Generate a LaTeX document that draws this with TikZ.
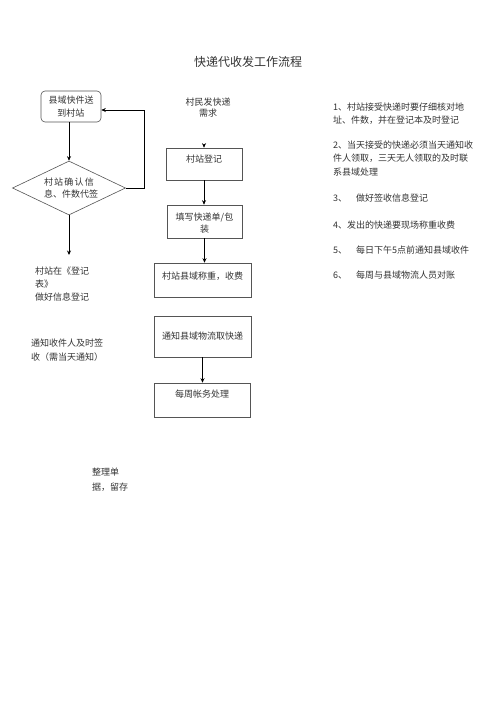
\documentclass[tikz,border=0pt]{standalone}
\usepackage{fontspec}
\setmainfont{Noto Sans CJK SC}
\usetikzlibrary{shapes.geometric,arrows.meta}
\definecolor{txt}{HTML}{333333}
\definecolor{boxc}{HTML}{555555}
\begin{document}
\begin{tikzpicture}[x=1pt,y=-1pt,
  every node/.style={font=\fontsize{9pt}{12.5pt}\selectfont, text=txt, inner sep=0pt},
  stepbox/.style={draw=boxc, line width=0.6pt, inner sep=0pt},
  rbox/.style={stepbox, rounded corners=4pt, align=center},
  dia/.style={draw=boxc, line width=0.6pt, shape=diamond, aspect=2.1, inner sep=0pt, align=center},
  lbl/.style={align=center},
  arr/.style={-{Stealth[length=4.5pt,width=4pt]}, line width=0.9pt, draw=black},
  note/.style={anchor=west, align=left},
]
\useasboundingbox[fill=white] (0,0) rectangle (500,707);

% title
\node[font=\fontsize{12pt}{14pt}\selectfont] (title) at (248,62) {快递代收发工作流程};

% left flow
\node[rbox, minimum width=60pt, minimum height=31pt] (b0) at (71,106.5) {县域快件送\\到村站};
\node[dia, minimum width=113pt, minimum height=54pt] (d) at (69,188)
  {\makebox[50pt][s]{村\hfill 站\hfill 确\hfill 认\hfill 信}\\\makebox[50pt][s]{息\hfill 、\hfill 件\hfill 数\hfill 代\hfill 签}};
\draw[arr] (d.north |- b0.south) -- (d.north);
\draw[arr] (d.east) -- ++(19,0) |- ([yshift=-3.5pt]b0.east);
\coordinate (e1) at (69,255);
\draw[arr] (d.south) -- (e1);

\node[note, font=\fontsize{9pt}{13pt}\selectfont] (t1) at (35,284) {村站在《登记\\表》\\做好信息登记};
\node[note, font=\fontsize{9pt}{14pt}\selectfont] (t2) at (31,350) {通知收件人及时签\\收（需当天通知）};
\node[note, font=\fontsize{9pt}{15pt}\selectfont] (t3) at (92,479.5) {整理单\\据，留存};

% middle flow
\node[lbl, font=\fontsize{9pt}{11.5pt}\selectfont] (q) at (208,107.5) {村民发快递\\需求};
\node[stepbox, minimum width=76pt, minimum height=32pt,
  label={[lbl,yshift=5pt]center:村站登记}] (s1) at (204,164) {};
\node[stepbox, minimum width=75pt, minimum height=33pt,
  label={[lbl,yshift=-1.5pt]center:填写快递单/包\\装}] (s2) at (204.5,221.5) {};
\node[stepbox, minimum width=97pt, minimum height=34pt,
  label={[lbl,yshift=4pt]center:村站县域称重，收费}] (s3) at (202.5,280) {};
\node[stepbox, minimum width=97pt, minimum height=41pt,
  label={[lbl]center:通知县域物流取快递}] (s4) at (202.5,336.5) {};
\node[stepbox, minimum width=96pt, minimum height=34pt,
  label={[lbl,yshift=6pt]center:每周帐务处理}] (s5) at (202,400) {};

\coordinate (q1) at ([yshift=4pt]s1.north);
\draw[arr] (q1) -- (s1.north);
\draw[arr] (s1.south) -- (s1.south |- s2.north);
\draw[arr] (s2.south) -- (s2.south |- s3.north);
\draw[arr] (s4.south) -- (s4.south |- s5.north);

% notes
\node[note, font=\fontsize{9pt}{13pt}\selectfont] (n1) at (333,113.5) {1、村站接受快递时要仔细核对地\\址、件数，并在登记本及时登记};
\node[note, font=\fontsize{9pt}{13.5pt}\selectfont] (n2) at (333,158.5) {2、当天接受的快递必须当天通知收\\件人领取，三天无人领取的及时联\\系县域处理};
\node[note] (n3) at (333,198) {3、\hspace{9pt}做好签收信息登记};
\node[note] (n4) at (333,225) {4、发出的快递要现场称重收费};
\node[note] (n5) at (333,250) {5、\hspace{9pt}每日下午5点前通知县域收件};
\node[note] (n6) at (333,275) {6、\hspace{9pt}每周与县域物流人员对账};
\end{tikzpicture}
\end{document}
